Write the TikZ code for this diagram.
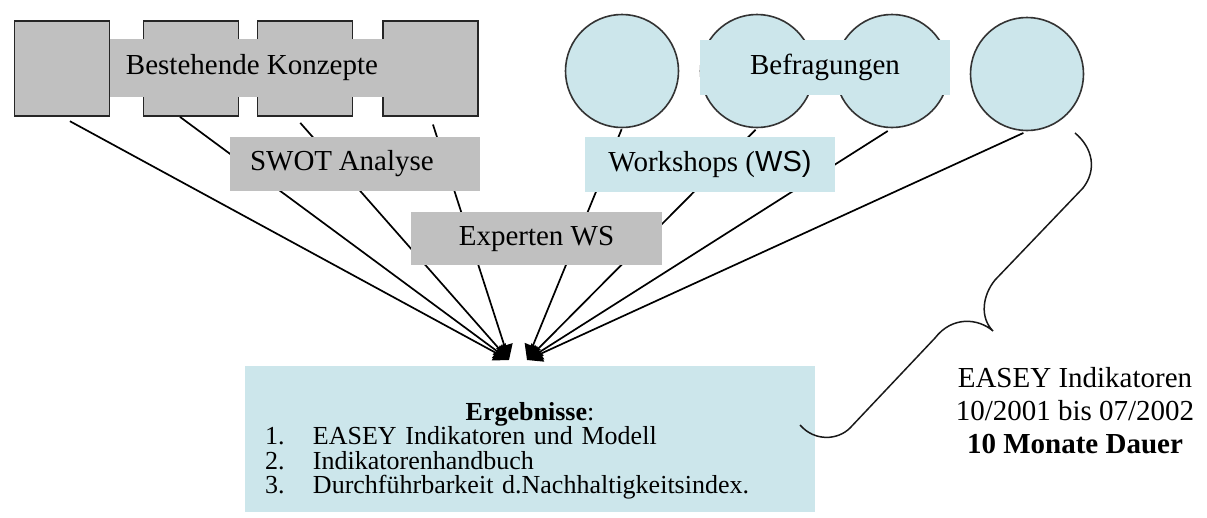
\documentclass[tikz,border=0pt]{standalone}
\usepackage{fontspec}
\setmainfont{Liberation Serif}
\newfontfamily\arialfont{Liberation Sans}
\usetikzlibrary{arrows.meta}
\definecolor{boxgray}{RGB}{192,192,192}
\definecolor{boxblue}{RGB}{204,230,235}
\tikzstyle{pfeil} = [line width=1.7pt,draw=black,-{Triangle[length=15pt,width=17pt]}]
\tikzstyle{konzept} = [draw=black!85,fill=boxgray,rectangle,line width=1.8pt,
                       minimum width=95pt,minimum height=95pt,inner sep=0pt]
\tikzstyle{befragung} = [draw=black!80,fill=boxblue,circle,line width=1.6pt,
                         minimum size=113pt,inner sep=0pt]
\tikzstyle{methode} = [rectangle,inner sep=0pt,minimum height=55pt,
                       font=\fontsize{29}{34}\selectfont]

\begin{document}
\begin{tikzpicture}[x=1pt,y=-1pt]
    \useasboundingbox (0,0) rectangle (1207,517);
    % bestehende Konzepte
    \node[konzept] (sq1) at (62,68.5) {};
    \node[konzept] (sq2) at (191,68.5) {};
    \node[konzept] (sq3) at (305,68.5) {};
    \node[konzept] (sq4) at (430.5,68.5) {};
    % Befragungen
    \node[befragung] (c1) at (622,71) {};
    \node[befragung] (c2) at (757,71) {};
    \node[befragung] (c3) at (892,71) {};
    \node[befragung] (c4) at (1027,74) {};
    % Zieltipps
    \coordinate (tipL) at (509,360);
    \coordinate (tipR) at (527,360);
    \draw[pfeil,shorten <=9pt] (sq1.south) -- (tipL);
    \draw[pfeil] ([xshift=-11pt]sq2.south) -- (tipL);
    \draw[pfeil,shorten <=8pt] ([xshift=-10pt]sq3.south) -- (tipL);
    \draw[pfeil,shorten <=8pt] (sq4.south) -- (tipL);
    \draw[pfeil,shorten <=1pt] (c1.south) -- (tipR);
    \draw[pfeil,shorten <=2pt] (c2.south) -- (tipR);
    \draw[pfeil,shorten <=5pt] (c3.south) -- (tipR);
    \draw[pfeil,shorten <=4pt] (c4.south) -- (tipR);
    % Baender und Methoden
    \node[methode,fill=boxgray,minimum width=284pt,minimum height=58pt]
        (konzepte) at (252,67.5) {Bestehende Konzepte};
    \node[methode,fill=boxblue,minimum width=250pt]
        (befragungen) at (825,67.5) {Befragungen};
    \node[methode,fill=boxgray,text width=210pt,inner xsep=20pt,align=left,minimum height=54pt]
        (swot) at (355,164) {SWOT\hspace{-3pt} Analyse};
    \node[methode,fill=boxblue,minimum width=250pt]
        (workshops) at (710,164.5) {Workshops ({\arialfont WS)}};
    \node[methode,fill=boxgray,minimum width=251pt,minimum height=53pt]
        (experten) at (536.5,238.5) {Experten WS};
    % Ergebnisse
    \node[fill=boxblue,rectangle,align=left,text width=530pt,inner xsep=20pt,inner ysep=0pt,
          minimum height=146pt,font=\fontsize{26}{24.5}\selectfont]
        (ergebnis) at (530,439) {\rule{0pt}{42pt}\makebox[530pt]{\textbf{Ergebnisse}:}\\
        \makebox[48pt][l]{1.}EASEY Indikatoren und Modell\\
        \makebox[48pt][l]{2.}Indikatorenhandbuch\\
        \makebox[48pt][l]{3.}Durchführbarkeit d.Nachhaltigkeitsindex.};
    % Klammer
    \coordinate (braceA) at (1075,133);
    \coordinate (braceB) at (800,425);
    \draw[line width=1.5pt,draw=black!90] (braceA) .. controls (1093,148) and (1097,170) .. (1083,188)
        -- (995,280) .. controls (982,296) and (980,318) .. (993,331)
        .. controls (978,318) and (952,316) .. (935,338)
        -- (850,428) .. controls (838,440) and (815,442) .. (braceB);
    \node[align=center,font=\fontsize{29}{33}\selectfont] (dauer) at (1075,411)
        {EASEY Indikatoren\\10/2001 bis 07/2002\\\textbf{10 Monate Dauer}};
\end{tikzpicture}
\end{document}
